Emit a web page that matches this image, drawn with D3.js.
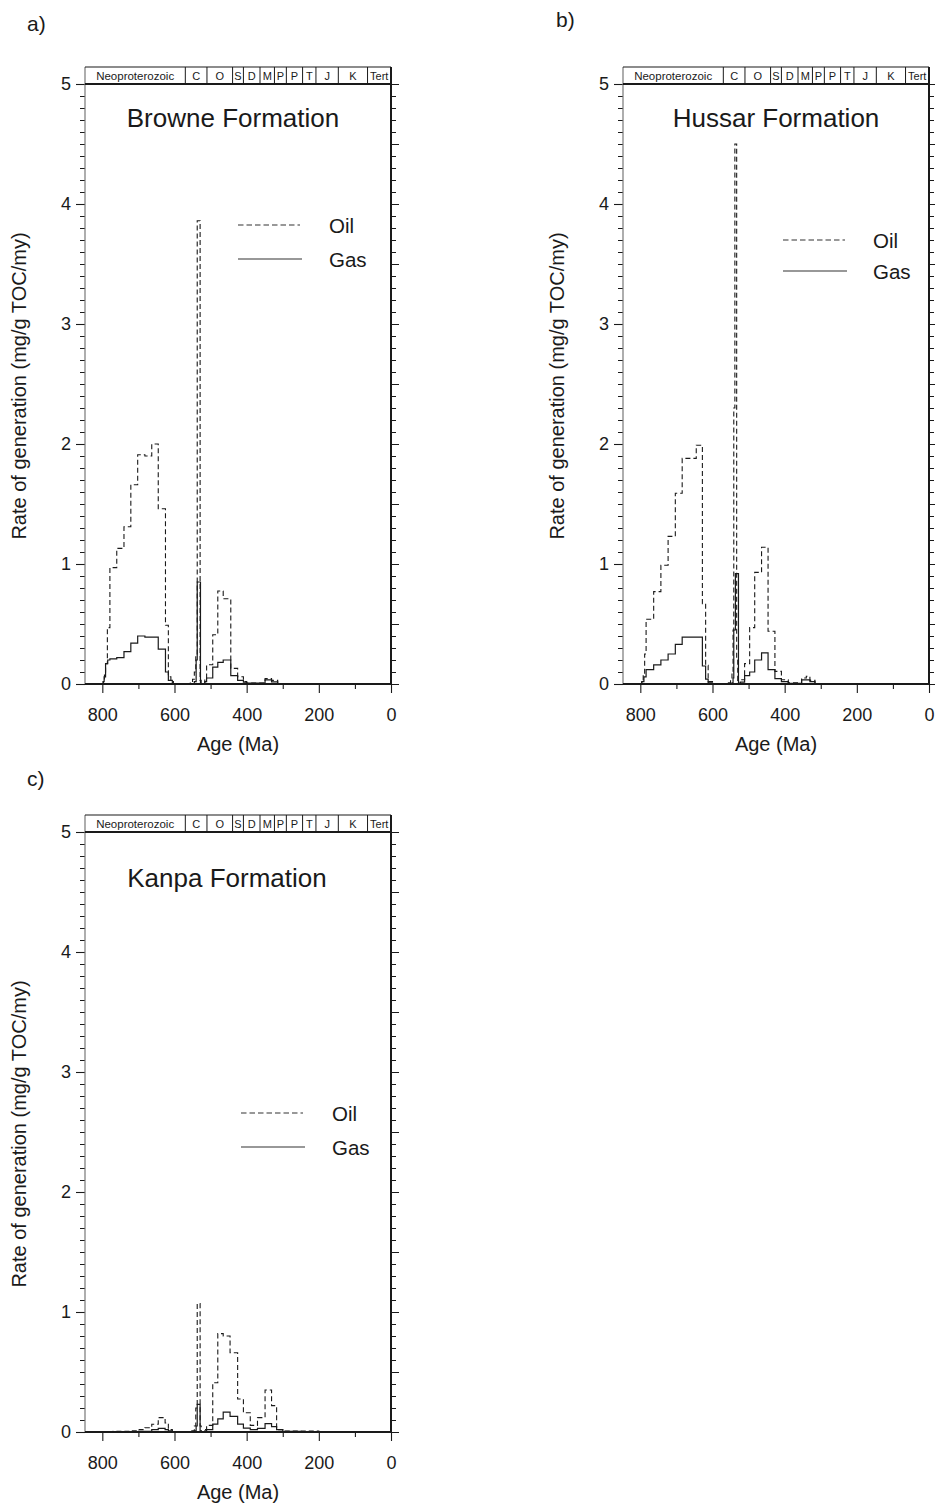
<!DOCTYPE html>
<html><head><meta charset="utf-8">
<script src="https://cdn.jsdelivr.net/npm/d3@7"></script>
<style>
html,body{margin:0;padding:0;background:#fff;}
svg{display:block;font-family:"Liberation Sans",Arial,Helvetica,sans-serif;}
</style></head>
<body>
<svg id="chart" width="935" height="1503"></svg>
<script>
// ---------- DATA ----------
const panelLetters = ["a)", "b)", "c)"];
const formationNames = ["Browne Formation", "Hussar Formation", "Kanpa Formation"];
const seriesNames = ["Oil", "Gas"];
const xTickValues = [800, 700, 600, 500, 400, 300, 200, 100, 0];
const xTickLabels = ["800", "", "600", "", "400", "", "200", "", "0"];
const yTickValues = [0, 1, 2, 3, 4, 5];
const yTickLabels = ["0", "1", "2", "3", "4", "5"];
// geological time-scale header (boundary ages, Ma) and period labels
const periodBounds = [848, 570, 510, 439, 409, 363, 323, 290, 245, 208, 146, 65, 0];
const periodLabels = ["Neoproterozoic", "C", "O", "S", "D", "M", "P", "P", "T", "J", "K", "Tert"];

// Browne Formation (a)
const browneOilAge = [848, 797, 794, 791, 786, 779, 760, 740, 721, 702, 682, 663, 645, 625, 617, 610, 603,
  556, 550, 545, 541, 537, 529, 526,
  516, 511, 494, 480, 465, 444, 425, 409, 400, 349, 331, 314, 0];
const browneOilVal = [0, 0.03, 0.09, 0.17, 0.47, 0.97, 1.13, 1.31, 1.66, 1.91, 1.90, 2.0, 1.46, 0.49, 0.06, 0.02, 0,
  0.01, 0.04, 0.1, 0.25, 3.86, 0.03, 0,
  0.04, 0.16, 0.41, 0.775, 0.71, 0.13, 0.06, 0.02, 0.008, 0.045, 0.03, 0, 0];
const browneGasAge = [848, 798, 795, 791, 785, 779, 760, 740, 721, 702, 682, 645, 625, 617, 606,
  545, 540, 537, 528,
  516, 511, 494, 480, 465, 444, 425, 409, 400, 349, 331, 314, 0];
const browneGasVal = [0, 0.02, 0.06, 0.17, 0.2, 0.21, 0.22, 0.27, 0.34, 0.40, 0.39, 0.29, 0.1, 0.03, 0,
  0.02, 0.2, 0.85, 0,
  0.02, 0.05, 0.14, 0.18, 0.2, 0.07, 0.03, 0.015, 0.008, 0.035, 0.018, 0, 0];

// Hussar Formation (b)
const hussarOilAge = [848, 796, 792, 788, 784, 763, 743, 723, 703, 684, 645, 628, 619, 612, 600,
  556, 550, 546, 543, 541, 538, 533, 530, 527,
  523, 511, 497, 483, 464, 446, 427, 409, 390, 353, 340, 330, 316, 0];
const hussarOilVal = [0, 0.02, 0.08, 0.25, 0.54, 0.77, 0.99, 1.23, 1.59, 1.88, 1.99, 0.67, 0.155, 0.02, 0,
  0.01, 0.04, 0.1, 0.45, 2.3, 4.5, 0.2, 0.03, 0,
  0.035, 0.17, 0.47, 0.93, 1.14, 0.44, 0.105, 0.036, 0.01, 0.05, 0.065, 0.03, 0, 0];
const hussarGasAge = [848, 796, 790, 784, 763, 743, 723, 703, 684, 628, 619, 612, 600,
  546, 543, 541, 536.5, 528,
  523, 511, 497, 483, 464, 446, 427, 409, 390, 353, 330, 316, 0];
const hussarGasVal = [0, 0.02, 0.06, 0.12, 0.16, 0.2, 0.25, 0.33, 0.39, 0.15, 0.04, 0.01, 0,
  0.01, 0.05, 0.45, 0.92, 0,
  0.015, 0.07, 0.1, 0.2, 0.26, 0.12, 0.045, 0.02, 0.006, 0.035, 0.02, 0, 0];

// Kanpa Formation (c)
const kanpaOilAge = [848, 770, 723, 700, 682, 663, 645, 626, 617, 606,
  552, 545, 541, 537, 529, 526,
  516, 511, 494, 480, 465, 446, 425, 409, 390, 370, 349, 331, 317, 300, 200, 150, 0];
const kanpaOilVal = [0, 0.005, 0.01, 0.02, 0.035, 0.065, 0.12, 0.075, 0.02, 0,
  0.01, 0.05, 0.2, 1.07, 0.05, 0,
  0.02, 0.055, 0.41, 0.82, 0.8, 0.66, 0.275, 0.16, 0.055, 0.12, 0.35, 0.22, 0.02, 0.008, 0.004, 0, 0];
const kanpaGasAge = [848, 700, 663, 645, 626, 617, 606,
  545, 540, 537, 529, 526,
  516, 511, 494, 480, 465, 446, 425, 409, 390, 370, 349, 331, 317, 300, 250, 0];
const kanpaGasVal = [0, 0.005, 0.02, 0.03, 0.02, 0.01, 0,
  0.01, 0.05, 0.23, 0.01, 0,
  0.01, 0.02, 0.065, 0.11, 0.165, 0.13, 0.065, 0.033, 0.02, 0.03, 0.07, 0.045, 0.02, 0.005, 0, 0];

const oilAges = [browneOilAge, hussarOilAge, kanpaOilAge];
const oilVals = [browneOilVal, hussarOilVal, kanpaOilVal];
const gasAges = [browneGasAge, hussarGasAge, kanpaGasAge];
const gasVals = [browneGasVal, hussarGasVal, kanpaGasVal];

// ---------- LAYOUT ----------
const layouts = [
  {left: 85, right: 391, top: 84, bottom: 684, letter: [27, 31], title: [233, 127],
   legend: {x1: 238, x2: 300, y1: 225, y2: 259, tx: 329}},
  {left: 623, right: 929, top: 84, bottom: 684, letter: [556, 27], title: [776, 127],
   legend: {x1: 783, x2: 845, y1: 240, y2: 271, tx: 873}},
  {left: 85, right: 391, top: 832, bottom: 1432, letter: [27, 786], title: [227, 887],
   legend: {x1: 241, x2: 303, y1: 1113, y2: 1147, tx: 332}}
];

const svg = d3.select("#chart");
const ink = "#1a1a1a";

layouts.forEach((L, i) => {
  const g = svg.append("g");
  const x = d3.scaleLinear().domain([848, 0]).range([L.left, L.right]);
  const y = d3.scaleLinear().domain([0, 5]).range([L.bottom, L.top]);

  // panel letter
  g.append("text").attr("x", L.letter[0]).attr("y", L.letter[1])
    .attr("font-size", 21).attr("fill", ink).text(panelLetters[i]);

  // y axis left (major integer ticks labelled, minor every 0.1)
  const yMinor = d3.range(0, 50).map(d => d / 10);
  const yAxisL = d3.axisLeft(y).tickValues(yTickValues)
    .tickFormat((d, k) => yTickLabels[k]).tickSize(9).tickPadding(5);
  const gl = g.append("g").attr("transform", `translate(${L.left},0)`).call(yAxisL);
  gl.select(".domain").remove();
  gl.selectAll("text").attr("font-size", 18).attr("fill", ink)
    .attr("font-family", "Liberation Sans, Arial, sans-serif");
  gl.selectAll("line").attr("stroke", ink).attr("stroke-width", 1.1);
  const glm = g.append("g").attr("transform", `translate(${L.left},0)`)
    .call(d3.axisLeft(y).tickValues(yMinor.filter(d => Math.abs(d - Math.round(d)) > 0.01)).tickSize(5).tickFormat(""));
  glm.select(".domain").remove();
  glm.selectAll("line").attr("stroke", ink).attr("stroke-width", 1);

  // y axis right (ticks outward, 0.5 longer)
  const yAxisR = d3.axisRight(y).tickValues(yMinor.concat([5]))
    .tickSize(5).tickFormat("");
  const gr = g.append("g").attr("transform", `translate(${L.right},0)`).call(yAxisR);
  gr.select(".domain").remove();
  gr.selectAll("line").attr("stroke", ink).attr("stroke-width", 1)
    .attr("x2", d => (Math.abs(d * 2 - Math.round(d * 2)) < 0.01) ? 8 : 5);

  // x axis
  const xAxis = d3.axisBottom(x).tickValues(xTickValues)
    .tickFormat((d, k) => xTickLabels[k]).tickSize(9).tickPadding(15);
  const gx = g.append("g").attr("transform", `translate(0,${L.bottom})`).call(xAxis);
  gx.select(".domain").remove();
  gx.selectAll("text").attr("font-size", 18).attr("fill", ink)
    .attr("font-family", "Liberation Sans, Arial, sans-serif");
  gx.selectAll("line").attr("stroke", ink).attr("stroke-width", 1.1)
    .attr("y2", (d, k) => xTickLabels[k] === "" ? 5 : 9);

  // axis titles
  g.append("text").attr("x", (L.left + L.right) / 2).attr("y", L.bottom + 67)
    .attr("text-anchor", "middle").attr("font-size", 20).attr("fill", ink).text("Age (Ma)");
  g.append("text")
    .attr("transform", `translate(${L.left - 59},${(L.top + L.bottom) / 2 + 2}) rotate(-90)`)
    .attr("text-anchor", "middle").attr("font-size", 20).attr("fill", ink)
    .text("Rate of generation (mg/g TOC/my)");

  // data lines (step histograms)
  const line = d3.line().x(d => x(d[0])).y(d => y(d[1])).curve(d3.curveStepAfter);
  const oil = oilAges[i].map((a, k) => [a, oilVals[i][k]]);
  const gas = gasAges[i].map((a, k) => [a, gasVals[i][k]]);
  g.append("path").datum(gas).attr("d", line).attr("fill", "none")
    .attr("stroke", ink).attr("stroke-width", 1.2);
  g.append("path").datum(oil).attr("d", line).attr("fill", "none")
    .attr("stroke", ink).attr("stroke-width", 1.1).attr("stroke-dasharray", "5,3");

  // frame
  g.append("line").attr("x1", L.left).attr("x2", L.left).attr("y1", L.top - 17).attr("y2", L.bottom)
    .attr("stroke", "#777").attr("stroke-width", 1.2);
  g.append("line").attr("x1", L.right).attr("x2", L.right).attr("y1", L.top - 17).attr("y2", L.bottom + 1)
    .attr("stroke", ink).attr("stroke-width", 2);
  g.append("line").attr("x1", L.left).attr("x2", L.right + 1).attr("y1", L.bottom).attr("y2", L.bottom)
    .attr("stroke", ink).attr("stroke-width", 2);
  g.append("line").attr("x1", L.left).attr("x2", L.right).attr("y1", L.top).attr("y2", L.top)
    .attr("stroke", ink).attr("stroke-width", 2);
  g.append("line").attr("x1", L.left).attr("x2", L.right).attr("y1", L.top - 17).attr("y2", L.top - 17)
    .attr("stroke", ink).attr("stroke-width", 1.2);

  // time-scale header
  periodBounds.slice(1, -1).forEach(a => {
    g.append("line").attr("x1", x(a)).attr("x2", x(a)).attr("y1", L.top - 17).attr("y2", L.top)
      .attr("stroke", ink).attr("stroke-width", 1);
  });
  periodLabels.forEach((lab, k) => {
    const cx = (x(periodBounds[k]) + x(periodBounds[k + 1])) / 2;
    g.append("text").attr("x", cx).attr("y", L.top - 4.5).attr("text-anchor", "middle")
      .attr("font-size", lab.length > 4 ? 11.5 : 11).attr("fill", ink).text(lab);
  });

  // formation title
  g.append("text").attr("x", L.title[0]).attr("y", L.title[1]).attr("text-anchor", "middle")
    .attr("font-size", 26).attr("fill", ink).text(formationNames[i]);

  // legend
  const lg = L.legend;
  g.append("line").attr("x1", lg.x1).attr("x2", lg.x2).attr("y1", lg.y1).attr("y2", lg.y1)
    .attr("stroke", "#333").attr("stroke-width", 1.1).attr("stroke-dasharray", "5.5,3");
  g.append("line").attr("x1", lg.x1).attr("x2", lg.x2 + 2).attr("y1", lg.y2).attr("y2", lg.y2)
    .attr("stroke", "#333").attr("stroke-width", 1.2);
  g.append("text").attr("x", lg.tx).attr("y", lg.y1 + 8).attr("font-size", 20.5).attr("fill", ink).text(seriesNames[0]);
  g.append("text").attr("x", lg.tx).attr("y", lg.y2 + 8).attr("font-size", 20.5).attr("fill", ink).text(seriesNames[1]);
});
</script>
</body></html>
